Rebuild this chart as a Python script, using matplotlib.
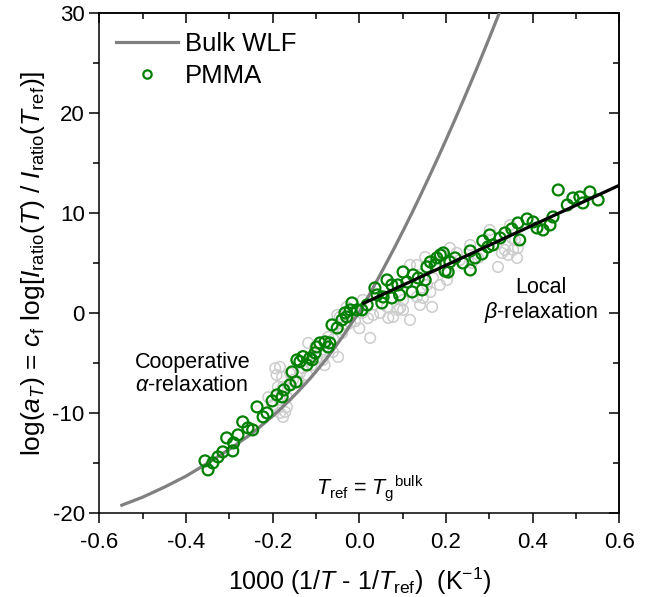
import numpy as np
import matplotlib
matplotlib.use('Agg')
import matplotlib.pyplot as plt
from matplotlib.lines import Line2D

plt.rcParams['font.family'] = ['Liberation Sans', 'DejaVu Sans']
plt.rcParams['mathtext.fontset'] = 'custom'
plt.rcParams['mathtext.rm'] = 'Liberation Sans'
plt.rcParams['mathtext.it'] = 'Liberation Sans:italic'
plt.rcParams['mathtext.bf'] = 'Liberation Sans:bold'

# Bulk WLF curve
wlf_x = [-0.548, -0.50, -0.45, -0.40, -0.35, -0.30, -0.25, -0.20, -0.18, -0.16,
         -0.14, -0.12, -0.10, -0.08, -0.06, -0.04, -0.02, 0.0, 0.02, 0.04,
         0.06, 0.08, 0.10, 0.12, 0.14, 0.16, 0.18, 0.20, 0.22, 0.24,
         0.26, 0.28, 0.30, 0.32, 0.34]
wlf_y = [-19.2, -18.4, -17.4, -16.3, -15.0, -13.6, -12.1, -10.3, -9.5, -8.66,
         -7.78, -6.84, -5.84, -4.78, -3.64, -2.42, -1.12, 0.1, 1.6, 3.2,
         4.82, 6.46, 8.16, 9.9, 11.7, 13.54, 15.42, 17.34, 19.3, 21.3,
         23.34, 25.42, 27.54, 29.7, 31.9]

# PMMA (green)
pmma_x = [-0.356, -0.349, -0.338, -0.326, -0.315, -0.306, -0.292, -0.290, -0.280, -0.269,
          -0.257, -0.246, -0.236, -0.222, -0.213, -0.201, -0.190, -0.178, -0.174, -0.160,
          -0.155, -0.146, -0.144, -0.137, -0.130, -0.121, -0.114, -0.109, -0.102, -0.098,
          -0.091, -0.079, -0.072, -0.068, -0.063, -0.051, -0.040, -0.033, -0.029, -0.021,
          -0.017, -0.005, 0.006, 0.018, 0.036, 0.041, 0.052, 0.055, 0.064, 0.075,
          0.075, 0.089, 0.093, 0.101, 0.110, 0.122, 0.124, 0.136, 0.145, 0.152,
          0.156, 0.164, 0.175, 0.179, 0.187, 0.194, 0.198, 0.205, 0.209, 0.221,
          0.239, 0.256, 0.256, 0.267, 0.283, 0.285, 0.297, 0.301, 0.308, 0.325,
          0.336, 0.352, 0.366, 0.370, 0.387, 0.401, 0.410, 0.424, 0.440, 0.447,
          0.459, 0.480, 0.493, 0.509, 0.516, 0.532, 0.551]
pmma_y = [-14.77, -15.67, -14.97, -14.37, -13.87, -12.47, -13.77, -12.97, -12.17, -10.87,
          -11.47, -11.67, -9.37, -10.37, -9.97, -8.77, -8.17, -8.37, -7.67, -7.17,
          -5.87, -6.87, -4.67, -4.84, -4.34, -5.17, -4.47, -4.67, -3.97, -3.37,
          -2.97, -2.87, -3.37, -2.97, -1.17, -1.47, -0.67, 0.03, -0.37, 0.33,
          1.03, 0.33, 0.33, 0.83, 2.53, 1.83, 1.03, 1.63, 3.33, 2.83,
          1.53, 2.83, 1.83, 4.13, 3.13, 2.13, 3.83, 3.53, 2.33, 3.33,
          4.63, 5.13, 4.83, 5.53, 5.83, 6.03, 4.23, 4.13, 5.13, 5.53,
          5.03, 4.33, 6.23, 5.53, 5.93, 7.23, 6.63, 7.83, 6.83, 7.53,
          8.03, 8.43, 9.03, 7.33, 9.43, 9.13, 8.53, 8.33, 8.83, 9.63,
          12.33, 10.83, 11.53, 11.63, 11.03, 12.13, 11.33]

# other samples (light gray)
gray_x = [-0.194, -0.191, -0.183, -0.178, -0.176, -0.183, -0.167, -0.171, -0.188, -0.167,
          -0.183, -0.176, -0.153, -0.137, -0.118, -0.102, -0.098, -0.084, -0.061, -0.049,
          -0.072, -0.045, -0.051, -0.038, -0.029, -0.021, -0.010, 0.006, 0.008, 0.025,
          0.032, 0.048, 0.067, 0.064, 0.078, 0.089, 0.101, 0.094, 0.117, 0.101,
          0.133, 0.140, 0.147, 0.164, 0.168, 0.133, 0.117, 0.156, 0.170, 0.186,
          0.202, 0.205, 0.152, 0.194, 0.209, 0.225, 0.232, 0.256, 0.260, 0.274,
          0.301, 0.320, 0.329, 0.336, 0.344, 0.348, 0.352, 0.359, 0.364, 0.355,
          0.366, -0.160, -0.140, -0.130, -0.120, -0.110, -0.090, -0.080, -0.070, -0.060,
          -0.040, -0.030, -0.010, 0.000, 0.020, -0.200, -0.210]
gray_y = [-5.50, -6.17, -5.37, -6.37, -7.37, -8.67, -9.37, -9.87, -7.37, -8.37,
          -9.97, -10.37, -6.67, -5.97, -2.97, -3.37, -4.47, -4.67, -3.87, -4.37,
          -2.37, -0.37, -0.17, -1.67, 0.63, -0.97, 0.33, 0.03, 1.33, -2.47,
          -0.17, 0.03, -0.47, 0.63, -0.37, 0.33, 0.33, 0.53, -0.67, 1.33,
          1.63, 0.83, 1.53, 2.13, 0.63, 4.83, 4.83, 2.83, 3.53, 2.83,
          3.33, 4.03, 5.63, 5.83, 6.53, 6.03, 5.33, 6.83, 5.03, 5.53,
          8.33, 4.63, 6.03, 6.33, 5.83, 8.83, 7.53, 7.33, 5.53, 6.33,
          6.53, -6.0, -6.8, -5.5, -6.2, -5.2, -4.0, -5.2, -3.5, -2.6,
          -2.0, -1.2, -0.8, -1.5, -0.5, -9.2, -8.4]

# local beta-relaxation fit
beta_x = [0.01, 0.60]
beta_y = [1.0, 12.8]

green = '#008000'

fig = plt.figure(figsize=(6.46, 5.97), dpi=100)
ax = fig.add_axes([0.1537, 0.1404, 0.805, 0.8373])

ax.scatter(gray_x, gray_y, s=58, facecolors='none', edgecolors='#cccccc',
           linewidths=1.1, zorder=2)
ax.plot(wlf_x, wlf_y, color='#808080', lw=2.3, zorder=3)
ax.scatter(pmma_x, pmma_y, s=62, facecolors='none', edgecolors=green,
           linewidths=1.6, zorder=4)
ax.plot(beta_x, beta_y, color='black', lw=2.3, zorder=5)

ax.set_xlim(-0.6, 0.6)
ax.set_ylim(-20, 30)
ax.set_xticks(np.arange(-0.6, 0.61, 0.2))
ax.set_xticks(np.arange(-0.5, 0.6, 0.2), minor=True)
ax.set_yticks(np.arange(-20, 31, 10))
ax.set_yticks(np.arange(-15, 30, 10), minor=True)
ax.set_xticklabels(['-0.6', '-0.4', '-0.2', '0.0', '0.2', '0.4', '0.6'])
ax.set_yticklabels(['-20', '-10', '0', '10', '20', '30'])
ax.tick_params(which='major', direction='out', length=7.5, width=1.1, labelsize=16)
ax.tick_params(axis='x', which='major', pad=6)
ax.tick_params(axis='y', which='major', pad=3)
ax.tick_params(which='minor', direction='out', length=4, width=1.1)
for sp in ax.spines.values():
    sp.set_linewidth(1.1)

# mirrored ticks pointing inward on top and right
top = ax.secondary_xaxis('top')
top.set_xticks(np.arange(-0.6, 0.61, 0.2))
top.set_xticks(np.arange(-0.5, 0.6, 0.2), minor=True)
top.tick_params(which='major', direction='in', length=7.5, width=1.1, labeltop=False)
top.tick_params(which='minor', direction='in', length=4, width=1.1)
right = ax.secondary_yaxis('right')
right.set_yticks(np.arange(-20, 31, 10))
right.set_yticks(np.arange(-15, 30, 10), minor=True)
right.tick_params(which='major', direction='in', length=7.5, width=1.1, labelright=False)
right.tick_params(which='minor', direction='in', length=4, width=1.1)
for s in (top, right):
    for sp in s.spines.values():
        sp.set_linewidth(1.1)

ax.set_xlabel(r'1000 (1/$T$ - 1/$T_\mathrm{ref}$)  (K$^{-1}$)', fontsize=18, labelpad=9)
ax.set_ylabel(r'log($a_T$) = $c_\mathrm{f}$ log[$I_\mathrm{ratio}$($T$) / $I_\mathrm{ratio}$($T_\mathrm{ref}$)]',
              fontsize=19, labelpad=4)

ax.text(-0.517, -6.1, 'Cooperative\n' + r'$\alpha$-relaxation', fontsize=15.5,
        ha='left', va='center', linespacing=1.1)
ax.text(0.418, 1.2, 'Local\n' + r'$\beta$-relaxation', fontsize=15.5,
        ha='center', va='center', linespacing=1.1)
ax.text(0.025, -17.5, r'$T_\mathrm{ref}$ = $T_\mathrm{g}$$^\mathrm{bulk}$', fontsize=15.5,
        ha='center', va='center')

handles = [Line2D([], [], color='#808080', lw=2.3),
           Line2D([], [], ls='none', marker='o', ms=6, mfc='none', mec=green, mew=1.6)]
ax.legend(handles, ['Bulk WLF', 'PMMA'], loc='upper left', bbox_to_anchor=(0.032, 0.962),
          frameon=False, fontsize=18.5, handlelength=2.4, handletextpad=0.3,
          labelspacing=0.3, borderpad=0, borderaxespad=0)

fig.savefig('out.png', dpi=100)
